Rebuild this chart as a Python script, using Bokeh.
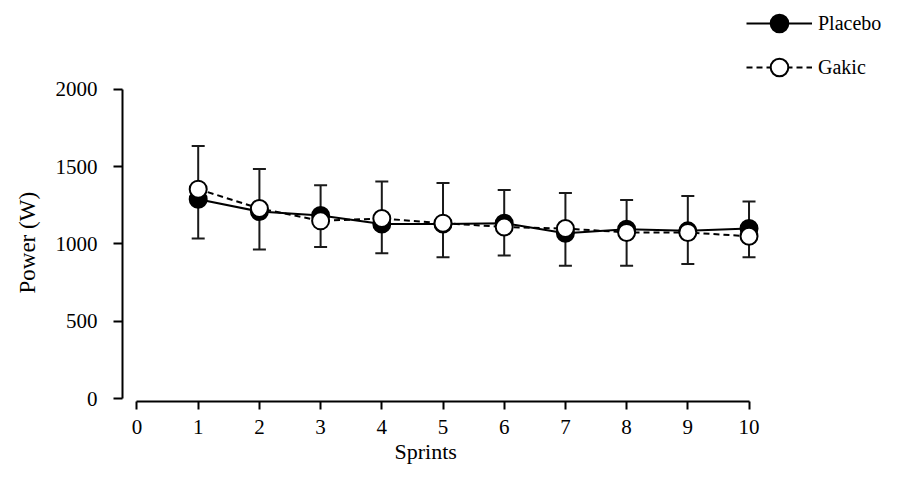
from bokeh.plotting import figure
from bokeh.models import (Range1d, FixedTicker, Whisker, TeeHead, ColumnDataSource,
                          Legend, LegendItem, Title)
from bokeh.embed import file_html
from bokeh.resources import INLINE

# ---- data ----
sprints = [1, 2, 3, 4, 5, 6, 7, 8, 9, 10]
placebo = [1290, 1210, 1185, 1130, 1130, 1135, 1070, 1095, 1085, 1100]
gakic = [1355, 1230, 1150, 1165, 1135, 1110, 1100, 1075, 1075, 1050]
err_upper = [1635, 1485, 1380, 1405, 1395, 1350, 1330, 1285, 1310, 1275]
err_lower = [1035, 965, 980, 940, 915, 925, 860, 860, 870, 915]
x_ticks = [0, 1, 2, 3, 4, 5, 6, 7, 8, 9, 10]
y_ticks = [0, 500, 1000, 1500, 2000]
series_names = ["Placebo", "Gakic"]
x_title = "Sprints"
y_title = "Power (W)"

FONT = "Liberation Serif"

p = figure(width=882, height=467, output_backend="svg", toolbar_location=None,
           x_range=Range1d(-0.2369, 12.181), y_range=Range1d(-19.4, 2576.0),
           min_border_left=122, min_border_right=0, min_border_top=0,
           min_border_bottom=66)
p.outline_line_color = None
p.xgrid.visible = False
p.ygrid.visible = False
p.background_fill_color = "white"
p.border_fill_color = "white"

# axes
for ax in (p.xaxis[0], p.yaxis[0]):
    ax.axis_line_width = 2
    ax.axis_line_color = "black"
    ax.major_tick_line_width = 2
    ax.major_tick_line_color = "black"
    ax.major_tick_in = 0
    ax.minor_tick_line_color = None
    ax.major_label_text_font = FONT
    ax.major_label_text_font_size = "21px"
    ax.major_label_text_color = "black"

p.xaxis.bounds = (0, 10)
p.xaxis.ticker = FixedTicker(ticks=x_ticks)
p.xaxis.major_tick_out = 8
p.xaxis.major_label_standoff = 10

p.yaxis.bounds = (0, 2000)
p.yaxis.ticker = FixedTicker(ticks=y_ticks)
p.yaxis.major_tick_out = 9
p.yaxis.major_label_standoff = 16

# axis titles as offset titles
p.add_layout(Title(text=x_title, align="left", offset=272, standoff=0,
                   text_font=FONT, text_font_size="22px",
                   text_font_style="normal", text_color="black"), "below")
p.add_layout(Title(text=y_title, align="left", offset=108, standoff=23,
                   vertical_align="middle",
                   text_font=FONT, text_font_size="23px",
                   text_font_style="normal", text_color="black"), "left")

# error bars
src = ColumnDataSource(dict(x=sprints, upper=err_upper, lower=err_lower))
wh = Whisker(base="x", upper="upper", lower="lower", source=src,
             line_width=2, line_color="#1a1a1a", level="underlay",
             upper_head=TeeHead(size=13, line_width=2, line_color="#1a1a1a"),
             lower_head=TeeHead(size=13, line_width=2, line_color="#1a1a1a"))
p.add_layout(wh)

# series
l1 = p.line(sprints, placebo, line_color="black", line_width=2)
l2 = p.line(sprints, gakic, line_color="black", line_width=2, line_dash="6 4")
s1 = p.scatter(sprints, placebo, marker="circle", size=17,
               fill_color="black", line_color="black", line_width=2)
s2 = p.scatter(sprints, gakic, marker="circle", size=17,
               fill_color="white", line_color="black", line_width=2)

legend = Legend(items=[LegendItem(label=series_names[0], renderers=[l1, s1]),
                       LegendItem(label=series_names[1], renderers=[l2, s2])],
                location=(624, 312), orientation="vertical",
                glyph_width=66, glyph_height=44, spacing=0, label_standoff=6,
                padding=0, margin=0, border_line_color=None,
                background_fill_alpha=0,
                label_text_font=FONT, label_text_font_size="20px",
                label_text_color="black")
p.add_layout(legend)

open("out.html", "w").write(file_html(p, INLINE))
